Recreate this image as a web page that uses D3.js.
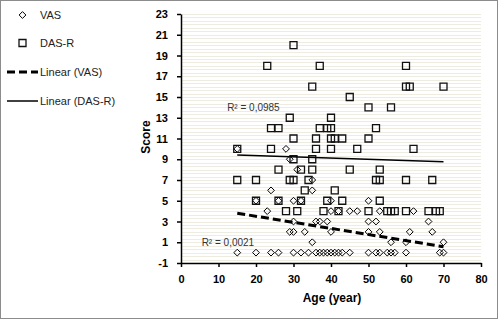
<!DOCTYPE html>
<html>
<head>
<meta charset="utf-8">
<script src="https://cdn.jsdelivr.net/npm/d3@7"></script>
<style>
  body { margin: 0; background: #fff; }
  svg { display: block; font-family: "Liberation Sans", Arial, sans-serif; }
</style>
</head>
<body>
<div id="chart"></div>
<script>
// Valores (edad en años, puntuación)
const vasAge = [
  15, 28,
  29,
  31,
  35,
  24, 35,
  20, 26, 30, 32, 40, 50,
  23, 40, 42, 45, 47, 53, 62,
  30, 36, 37, 39, 50, 52, 66,
  29, 30, 33, 40, 50, 53, 61, 67,
  35, 56, 60, 70,
  15, 20, 24, 26, 30, 32, 34, 36, 37, 38, 39, 40, 41, 42, 43, 45, 50, 52, 53, 55, 56, 57, 60, 69, 70
];
const vasScore = [
  10, 10,
  9,
  8,
  7,
  6, 6,
  5, 5, 5, 5, 5, 5,
  4, 4, 4, 4, 4, 4, 4,
  3, 3, 3, 3, 3, 3, 3,
  2, 2, 2, 2, 2, 2, 2, 2,
  1, 1, 1, 1,
  0, 0, 0, 0, 0, 0, 0, 0, 0, 0, 0, 0, 0, 0, 0, 0, 0, 0, 0, 0, 0, 0, 0, 0, 0
];

const dasAge = [
  30,
  23, 37, 60,
  35, 60, 61, 70,
  45,
  50, 56,
  29, 40,
  24, 26, 37, 39, 40, 52,
  30, 36, 40, 41, 43, 50,
  15, 24, 36, 40, 47, 62,
  30, 35,
  26, 32, 35, 45, 53,
  15, 20, 29, 30, 34, 52, 53, 60, 67,
  33, 41,
  20, 26, 32, 39, 43, 53,
  28, 31, 38, 42, 50, 55, 56, 57, 60, 66, 68, 69
];
const dasScore = [
  20,
  18, 18, 18,
  16, 16, 16, 16,
  15,
  14, 14,
  13, 13,
  12, 12, 12, 12, 12, 12,
  11, 11, 11, 11, 11, 11,
  10, 10, 10, 10, 10, 10,
  9, 9,
  8, 8, 8, 8, 8,
  7, 7, 7, 7, 7, 7, 7, 7, 7,
  6, 6,
  5, 5, 5, 5, 5, 5,
  4, 4, 4, 4, 4, 4, 4, 4, 4, 4, 4, 4
];

// Líneas de tendencia (extremos en edad y puntuación)
const trendAge = [15, 70];
const vasTrend = [3.8, 0.57];
const dasTrend = [9.41, 8.76];
const r2Labels = ["R² = 0,0021", "R² = 0,0985"];

const xTicks = [0, 10, 20, 30, 40, 50, 60, 70, 80];
const yTicks = [-1, 1, 3, 5, 7, 9, 11, 13, 15, 17, 19, 21, 23];

const legendItems = ["VAS", "DAS-R", "Linear (VAS)", "Linear (DAS-R)"];

//////////////////////////////////////////////////////////////////
const width = 500, height = 321;
const margin = { left: 181, right: 19, top: 14, bottom: 58 };

const svg = d3.select("#chart").append("svg")
    .attr("width", width)
    .attr("height", height);

// borde del gráfico
svg.append("rect")
    .attr("x", 0.5).attr("y", 0.5)
    .attr("width", 497).attr("height", 318)
    .attr("fill", "#fff")
    .attr("stroke", "#8c8c8c");

const x = d3.scaleLinear().domain([0, 80]).range([margin.left, width - margin.right]);
const y = d3.scaleLinear().domain([-1, 23]).range([height - margin.bottom, margin.top]);

// rayado del área de trazado
const stripes = d3.range(-1 + 1 / 3, 23, 1 / 3);
svg.append("g")
    .selectAll("line")
    .data(stripes)
    .enter().append("line")
    .attr("x1", x(0)).attr("x2", x(80))
    .attr("y1", d => Math.round(y(d)) + 0.5)
    .attr("y2", d => Math.round(y(d)) + 0.5)
    .attr("stroke", "#eeebe0")
    .attr("stroke-width", 1);

// ejes
const xAxis = svg.append("g")
    .attr("transform", `translate(0,${y(-1)})`)
    .call(d3.axisBottom(x).tickValues(xTicks).tickFormat(d => String(d))
        .tickSize(4).tickPadding(8).tickSizeOuter(0));
const yAxis = svg.append("g")
    .attr("transform", `translate(${x(0)},0)`)
    .call(d3.axisLeft(y).tickValues(yTicks).tickFormat(d => String(d))
        .tickSize(4).tickPadding(9).tickSizeOuter(0));

[xAxis, yAxis].forEach(a => {
    a.select(".domain").attr("stroke", "#000").attr("stroke-width", 1.5);
    a.selectAll(".tick line").attr("stroke", "#000").attr("stroke-width", 1.5);
    a.selectAll("text")
        .attr("fill", "#000")
        .style("font-size", "11px")
        .style("font-weight", "bold")
        .style("font-family", "'Liberation Sans', Arial, sans-serif");
});

// títulos de ejes
svg.append("text")
    .attr("x", 332).attr("y", 302)
    .attr("text-anchor", "middle")
    .style("font-size", "12px").style("font-weight", "bold")
    .text("Age (year)");
svg.append("text")
    .attr("transform", `translate(150,137) rotate(-90)`)
    .attr("text-anchor", "middle")
    .style("font-size", "12px").style("font-weight", "bold")
    .text("Score");

// puntos
const vasData = vasAge.map((a, i) => ({ age: a, score: vasScore[i] }));
const dasData = dasAge.map((a, i) => ({ age: a, score: dasScore[i] }));

const diamond = "M0,-3.4L3.4,0L0,3.4L-3.4,0Z";
const square = "M-3.5,-3.5H3.5V3.5H-3.5Z";

svg.append("g").selectAll("path")
    .data(vasData)
    .enter().append("path")
    .attr("transform", d => `translate(${x(d.age)},${y(d.score)})`)
    .attr("d", diamond)
    .attr("fill", "none")
    .attr("stroke", "#000")
    .attr("stroke-width", 1);

svg.append("g").selectAll("path")
    .data(dasData)
    .enter().append("path")
    .attr("transform", d => `translate(${x(d.age)},${y(d.score)})`)
    .attr("d", square)
    .attr("fill", "none")
    .attr("stroke", "#111")
    .attr("stroke-width", 1.3);

// tendencias
const line = d3.line().x(d => x(d[0])).y(d => y(d[1]));
svg.append("path")
    .attr("d", line(trendAge.map((a, i) => [a, vasTrend[i]])))
    .attr("fill", "none")
    .attr("stroke", "#000")
    .attr("stroke-width", 3)
    .attr("stroke-dasharray", "8,4");
svg.append("path")
    .attr("d", line(trendAge.map((a, i) => [a, dasTrend[i]])))
    .attr("fill", "none")
    .attr("stroke", "#000")
    .attr("stroke-width", 1.5);

// etiquetas R²
svg.append("text")
    .attr("x", x(5.5)).attr("y", y(1.05) + 4)
    .style("font-size", "10px").attr("fill", "#333")
    .text(r2Labels[0]);
svg.append("text")
    .attr("x", x(12.3)).attr("y", y(14.0) + 4)
    .style("font-size", "10px").attr("fill", "#333")
    .text(r2Labels[1]);

// leyenda
const legend = svg.append("g");
const rowY = [15, 43, 72, 101];
legendItems.forEach((t, i) => {
    legend.append("text")
        .attr("x", 40).attr("y", rowY[i] + 4)
        .style("font-size", "11px").attr("fill", "#222")
        .text(t);
});
legend.append("path")
    .attr("transform", `translate(22.5,${rowY[0]})`)
    .attr("d", diamond).attr("fill", "none").attr("stroke", "#000");
legend.append("path")
    .attr("transform", `translate(22.5,${rowY[1]})`)
    .attr("d", square).attr("fill", "none").attr("stroke", "#111").attr("stroke-width", 1.3);
legend.append("line")
    .attr("x1", 7).attr("x2", 38).attr("y1", rowY[2]).attr("y2", rowY[2])
    .attr("stroke", "#000").attr("stroke-width", 3).attr("stroke-dasharray", "8,4");
legend.append("line")
    .attr("x1", 7).attr("x2", 38).attr("y1", rowY[3]).attr("y2", rowY[3])
    .attr("stroke", "#000").attr("stroke-width", 1.5);
</script>
</body>
</html>
